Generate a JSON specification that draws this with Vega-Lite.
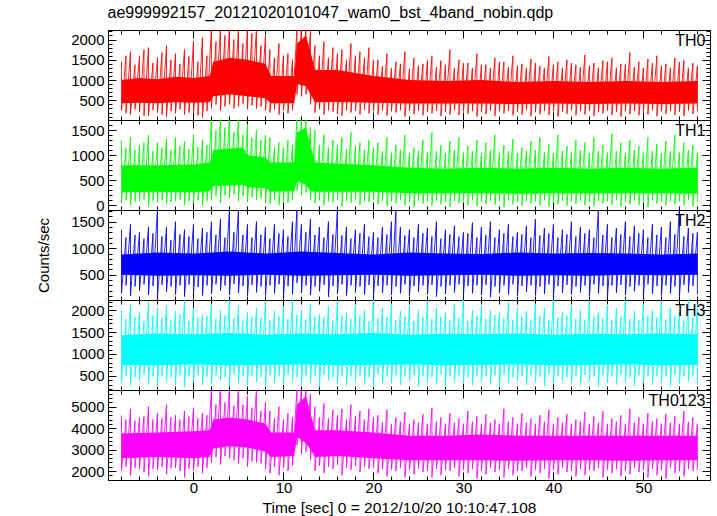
{
"$schema": "https://vega.github.io/schema/vega-lite/v6.json",
"padding": {"left": 35, "right": 6, "top": 4, "bottom": 0},
"spacing": 0,
"bounds": "flush",
"title": {"text": "ae999992157_20121020101047_wam0_bst_4band_nobin.qdp", "anchor": "start", "font": "Liberation Sans", "fontSize": 16, "fontWeight": "normal", "color": "black", "offset": 3, "dx": 72},
"config": {
  "view": {"stroke": "black", "strokeWidth": 1},
  "axis": {"domainColor": "black", "tickColor": "black", "labelColor": "black", "titleColor": "black", "labelFont": "Liberation Sans", "titleFont": "Liberation Sans", "labelFontSize": 15, "titleFontSize": 15, "titleFontWeight": "normal", "grid": false, "labelOverlap": false, "labelPadding": 12, "tickWidth": 1, "domainWidth": 1, "format": "d"},
  "text": {"font": "Liberation Sans", "fontSize": 16, "color": "black"},
  "line": {"strokeOpacity": 0.85}
},
"datasets": {
"s0": [{"t":-8,"lo":250,"hi":1450},{"t":-7.5,"lo":180,"hi":1600},{"t":-7,"lo":150,"hi":1700},{"t":-6.5,"lo":280,"hi":1380},{"t":-6,"lo":220,"hi":1600},{"t":-5.5,"lo":120,"hi":1750},{"t":-5,"lo":120,"hi":1800},{"t":-4.5,"lo":260,"hi":1420},{"t":-4,"lo":200,"hi":1550},{"t":-3.5,"lo":150,"hi":1680},{"t":-3,"lo":100,"hi":1850},{"t":-2.5,"lo":230,"hi":1500},{"t":-2,"lo":180,"hi":1650},{"t":-1.5,"lo":280,"hi":1400},{"t":-1,"lo":150,"hi":1750},{"t":-0.5,"lo":200,"hi":1580},{"t":0,"lo":200,"hi":1950},{"t":0.5,"lo":130,"hi":1450},{"t":1,"lo":80,"hi":2050},{"t":1.5,"lo":240,"hi":1600},
{"t":2,"lo":300,"hi":2300},{"t":2.5,"lo":400,"hi":1950},{"t":3,"lo":250,"hi":2300},{"t":3.5,"lo":350,"hi":2100},{"t":4,"lo":400,"hi":2300},{"t":4.5,"lo":300,"hi":2000},{"t":5,"lo":350,"hi":2300},{"t":5.5,"lo":420,"hi":1900},{"t":6,"lo":280,"hi":2300},{"t":6.5,"lo":380,"hi":2150},{"t":7,"lo":300,"hi":2300},{"t":7.5,"lo":350,"hi":1850},{"t":8,"lo":250,"hi":2100},
{"t":8.5,"lo":200,"hi":1750},{"t":9,"lo":280,"hi":1550},{"t":9.5,"lo":150,"hi":1900},{"t":10,"lo":250,"hi":1600},{"t":10.5,"lo":180,"hi":1650},{"t":11,"lo":260,"hi":1500},
{"t":11.5,"lo":650,"hi":2300},{"t":12,"lo":600,"hi":2300},{"t":12.5,"lo":650,"hi":2300},{"t":13,"lo":400,"hi":2200},
{"t":13.5,"lo":200,"hi":1850},{"t":14,"lo":280,"hi":1600},{"t":14.5,"lo":150,"hi":1950},{"t":15,"lo":250,"hi":1550},{"t":15.5,"lo":220,"hi":1800},{"t":16,"lo":160,"hi":1650},{"t":16.5,"lo":120,"hi":1750},{"t":17,"lo":260,"hi":1500},{"t":17.5,"lo":200,"hi":1900},{"t":18,"lo":240,"hi":1600},{"t":18.5,"lo":150,"hi":1700},{"t":19,"lo":270,"hi":1550},{"t":19.5,"lo":180,"hi":1800},{"t":20,"lo":230,"hi":1500},
{"t":20.5,"lo":150,"hi":1500},{"t":21,"lo":250,"hi":1350},{"t":21.5,"lo":120,"hi":1650},{"t":22,"lo":230,"hi":1300},{"t":22.5,"lo":200,"hi":1450},{"t":23,"lo":260,"hi":1400},{"t":23.5,"lo":100,"hi":1700},{"t":24,"lo":240,"hi":1280},{"t":24.5,"lo":160,"hi":1550},{"t":25,"lo":250,"hi":1350},
{"t":25.5,"lo":130,"hi":1400},{"t":26,"lo":220,"hi":1480},{"t":26.5,"lo":180,"hi":1600},{"t":27,"lo":240,"hi":1320},{"t":27.5,"lo":110,"hi":1480},{"t":28,"lo":220,"hi":1380},{"t":28.5,"lo":150,"hi":1750},{"t":29,"lo":260,"hi":1300},{"t":29.5,"lo":140,"hi":1500},{"t":30,"lo":230,"hi":1420},
{"t":30.5,"lo":170,"hi":1420},{"t":31,"lo":240,"hi":1300},{"t":31.5,"lo":100,"hi":1650},{"t":32,"lo":220,"hi":1380},{"t":32.5,"lo":160,"hi":1380},{"t":33,"lo":250,"hi":1300},{"t":33.5,"lo":120,"hi":1550},{"t":34,"lo":230,"hi":1450},{"t":34.5,"lo":180,"hi":1450},{"t":35,"lo":240,"hi":1320},
{"t":35.5,"lo":130,"hi":1600},{"t":36,"lo":220,"hi":1350},{"t":36.5,"lo":150,"hi":1400},{"t":37,"lo":260,"hi":1300},{"t":37.5,"lo":110,"hi":1520},{"t":38,"lo":210,"hi":1420},{"t":38.5,"lo":160,"hi":1350},{"t":39,"lo":240,"hi":1300},{"t":39.5,"lo":140,"hi":1580},{"t":40,"lo":230,"hi":1380},
{"t":40.5,"lo":100,"hi":1450},{"t":41,"lo":220,"hi":1300},{"t":41.5,"lo":170,"hi":1500},{"t":42,"lo":250,"hi":1420},{"t":42.5,"lo":130,"hi":1380},{"t":43,"lo":230,"hi":1320},{"t":43.5,"lo":150,"hi":1620},{"t":44,"lo":240,"hi":1350},{"t":44.5,"lo":120,"hi":1420},{"t":45,"lo":210,"hi":1300},
{"t":45.5,"lo":180,"hi":1480},{"t":46,"lo":250,"hi":1450},{"t":46.5,"lo":140,"hi":1550},{"t":47,"lo":220,"hi":1300},{"t":47.5,"lo":100,"hi":1400},{"t":48,"lo":230,"hi":1380},{"t":48.5,"lo":160,"hi":1680},{"t":49,"lo":240,"hi":1320},{"t":49.5,"lo":130,"hi":1450},{"t":50,"lo":220,"hi":1300},
{"t":50.5,"lo":150,"hi":1520},{"t":51,"lo":260,"hi":1420},{"t":51.5,"lo":110,"hi":1600},{"t":52,"lo":230,"hi":1350},{"t":52.5,"lo":170,"hi":1400},{"t":53,"lo":240,"hi":1300},{"t":53.5,"lo":140,"hi":1550},{"t":54,"lo":220,"hi":1450},{"t":54.5,"lo":120,"hi":1480},{"t":55,"lo":250,"hi":1300},
{"t":55.5,"lo":160,"hi":1420},{"t":56,"lo":230,"hi":1350}],
"c0": [{"t":-8,"clo":430,"chi":1000},{"t":-6,"clo":440,"chi":1050},{"t":-4,"clo":430,"chi":1020},{"t":-2,"clo":450,"chi":1080},{"t":0,"clo":440,"chi":1050},{"t":1.8,"clo":450,"chi":1100},{"t":2.2,"clo":600,"chi":1450},{"t":4,"clo":650,"chi":1550},{"t":6,"clo":600,"chi":1500},{"t":8,"clo":550,"chi":1400},{"t":8.6,"clo":430,"chi":1100},{"t":11.2,"clo":430,"chi":1100},{"t":11.5,"clo":900,"chi":1900},{"t":12.5,"clo":850,"chi":2100},{"t":13,"clo":650,"chi":1700},{"t":13.5,"clo":450,"chi":1250},{"t":16,"clo":460,"chi":1250},{"t":20,"clo":440,"chi":1100},{"t":24,"clo":420,"chi":1000},{"t":28,"clo":420,"chi":980},{"t":32,"clo":420,"chi":1000},{"t":36,"clo":410,"chi":950},{"t":40,"clo":420,"chi":980},{"t":44,"clo":410,"chi":950},{"t":48,"clo":420,"chi":980},{"t":52,"clo":410,"chi":950},{"t":56,"clo":420,"chi":980}],
"s1": [{"t":-8,"lo":50,"hi":1300},{"t":-7.5,"lo":100,"hi":1150},{"t":-7,"lo":0,"hi":1350},{"t":-6.5,"lo":80,"hi":1100},{"t":-6,"lo":80,"hi":1200},{"t":-5.5,"lo":120,"hi":1250},{"t":-5,"lo":-20,"hi":1400},{"t":-4.5,"lo":90,"hi":1080},{"t":-4,"lo":60,"hi":1250},{"t":-3.5,"lo":100,"hi":1150},{"t":-3,"lo":20,"hi":1320},{"t":-2.5,"lo":70,"hi":1100},{"t":-2,"lo":90,"hi":1350},{"t":-1.5,"lo":110,"hi":1180},{"t":-1,"lo":0,"hi":1280},{"t":-0.5,"lo":80,"hi":1120},{"t":0,"lo":40,"hi":1400},{"t":0.5,"lo":100,"hi":1160},{"t":1,"lo":-10,"hi":1300},{"t":1.5,"lo":90,"hi":1200},
{"t":2,"lo":100,"hi":1750},{"t":2.5,"lo":180,"hi":1500},{"t":3,"lo":50,"hi":1750},{"t":3.5,"lo":200,"hi":1550},{"t":4,"lo":150,"hi":1750},{"t":4.5,"lo":220,"hi":1450},{"t":5,"lo":80,"hi":1750},{"t":5.5,"lo":180,"hi":1400},{"t":6,"lo":60,"hi":1600},{"t":6.5,"lo":160,"hi":1350},{"t":7,"lo":100,"hi":1500},{"t":7.5,"lo":140,"hi":1300},{"t":8,"lo":40,"hi":1400},
{"t":8.5,"lo":30,"hi":1350},{"t":9,"lo":100,"hi":1150},{"t":9.5,"lo":0,"hi":1250},{"t":10,"lo":80,"hi":1150},{"t":10.5,"lo":50,"hi":1300},{"t":11,"lo":110,"hi":1200},
{"t":11.5,"lo":300,"hi":1750},{"t":12,"lo":200,"hi":1750},{"t":12.5,"lo":250,"hi":1750},{"t":13,"lo":100,"hi":1550},
{"t":13.5,"lo":40,"hi":1500},{"t":14,"lo":100,"hi":1200},{"t":14.5,"lo":0,"hi":1400},{"t":15,"lo":80,"hi":1150},{"t":15.5,"lo":60,"hi":1300},{"t":16,"lo":110,"hi":1200},{"t":16.5,"lo":-20,"hi":1350},{"t":17,"lo":90,"hi":1120},{"t":17.5,"lo":50,"hi":1450},{"t":18,"lo":100,"hi":1180},{"t":18.5,"lo":10,"hi":1250},{"t":19,"lo":80,"hi":1100},{"t":19.5,"lo":70,"hi":1300},{"t":20,"lo":100,"hi":1150},
{"t":20.5,"lo":20,"hi":1250},{"t":21,"lo":90,"hi":1080},{"t":21.5,"lo":-20,"hi":1350},{"t":22,"lo":80,"hi":1050},{"t":22.5,"lo":40,"hi":1200},{"t":23,"lo":100,"hi":1100},{"t":23.5,"lo":0,"hi":1400},{"t":24,"lo":70,"hi":1040},{"t":24.5,"lo":-40,"hi":1150},{"t":25,"lo":90,"hi":1080},
{"t":25.5,"lo":30,"hi":1300},{"t":26,"lo":80,"hi":1050},{"t":26.5,"lo":-10,"hi":1450},{"t":27,"lo":100,"hi":1080},{"t":27.5,"lo":20,"hi":1200},{"t":28,"lo":70,"hi":1040},{"t":28.5,"lo":-30,"hi":1280},{"t":29,"lo":90,"hi":1100},{"t":29.5,"lo":40,"hi":1350},{"t":30,"lo":80,"hi":1050},
{"t":30.5,"lo":0,"hi":1180},{"t":31,"lo":100,"hi":1080},{"t":31.5,"lo":-20,"hi":1300},{"t":32,"lo":70,"hi":1040},{"t":32.5,"lo":30,"hi":1250},{"t":33,"lo":90,"hi":1100},{"t":33.5,"lo":10,"hi":1400},{"t":34,"lo":80,"hi":1050},{"t":34.5,"lo":-40,"hi":1200},{"t":35,"lo":100,"hi":1080},
{"t":35.5,"lo":20,"hi":1320},{"t":36,"lo":70,"hi":1040},{"t":36.5,"lo":-10,"hi":1150},{"t":37,"lo":90,"hi":1080},{"t":37.5,"lo":40,"hi":1280},{"t":38,"lo":80,"hi":1100},{"t":38.5,"lo":0,"hi":1350},{"t":39,"lo":100,"hi":1050},{"t":39.5,"lo":-30,"hi":1220},{"t":40,"lo":70,"hi":1040},
{"t":40.5,"lo":20,"hi":1400},{"t":41,"lo":90,"hi":1080},{"t":41.5,"lo":-10,"hi":1180},{"t":42,"lo":80,"hi":1050},{"t":42.5,"lo":30,"hi":1300},{"t":43,"lo":100,"hi":1100},{"t":43.5,"lo":0,"hi":1250},{"t":44,"lo":70,"hi":1040},{"t":44.5,"lo":-20,"hi":1350},{"t":45,"lo":90,"hi":1080},
{"t":45.5,"lo":40,"hi":1200},{"t":46,"lo":80,"hi":1050},{"t":46.5,"lo":10,"hi":1430},{"t":47,"lo":100,"hi":1080},{"t":47.5,"lo":-30,"hi":1250},{"t":48,"lo":70,"hi":1040},{"t":48.5,"lo":20,"hi":1300},{"t":49,"lo":90,"hi":1100},{"t":49.5,"lo":0,"hi":1180},{"t":50,"lo":80,"hi":1050},
{"t":50.5,"lo":-40,"hi":1350},{"t":51,"lo":100,"hi":1080},{"t":51.5,"lo":30,"hi":1220},{"t":52,"lo":70,"hi":1040},{"t":52.5,"lo":-10,"hi":1280},{"t":53,"lo":90,"hi":1080},{"t":53.5,"lo":20,"hi":1400},{"t":54,"lo":80,"hi":1050},{"t":54.5,"lo":0,"hi":1250},{"t":55,"lo":100,"hi":1100},
{"t":55.5,"lo":-20,"hi":1200},{"t":56,"lo":70,"hi":1050}],
"c1": [{"t":-8,"clo":260,"chi":800},{"t":-4,"clo":270,"chi":800},{"t":0,"clo":260,"chi":810},{"t":1.8,"clo":280,"chi":850},{"t":2.2,"clo":380,"chi":1100},{"t":5.5,"clo":410,"chi":1150},{"t":6,"clo":360,"chi":1000},{"t":8,"clo":340,"chi":950},{"t":8.6,"clo":270,"chi":850},{"t":11.2,"clo":280,"chi":850},{"t":11.5,"clo":480,"chi":1450},{"t":12.5,"clo":410,"chi":1550},{"t":13,"clo":280,"chi":1200},{"t":13.5,"clo":270,"chi":850},{"t":20,"clo":270,"chi":800},{"t":24,"clo":240,"chi":750},{"t":28,"clo":240,"chi":730},{"t":32,"clo":240,"chi":750},{"t":36,"clo":230,"chi":730},{"t":40,"clo":240,"chi":750},{"t":44,"clo":240,"chi":730},{"t":48,"clo":240,"chi":750},{"t":52,"clo":240,"chi":730},{"t":56,"clo":230,"chi":750}],
"s2": [{"t":-8,"lo":150,"hi":1350},{"t":-7.5,"lo":300,"hi":1200},{"t":-7,"lo":100,"hi":1450},{"t":-6.5,"lo":280,"hi":1250},{"t":-6,"lo":200,"hi":1300},{"t":-5.5,"lo":320,"hi":1180},{"t":-5,"lo":120,"hi":1400},{"t":-4.5,"lo":290,"hi":1280},{"t":-4,"lo":80,"hi":1750},{"t":-3.5,"lo":310,"hi":1220},
{"t":-3,"lo":180,"hi":1400},{"t":-2.5,"lo":280,"hi":1150},{"t":-2,"lo":130,"hi":1500},{"t":-1.5,"lo":300,"hi":1260},{"t":-1,"lo":90,"hi":1350},{"t":-0.5,"lo":320,"hi":1220},{"t":0,"lo":160,"hi":1450},{"t":0.5,"lo":270,"hi":1180},{"t":1,"lo":110,"hi":1380},{"t":1.5,"lo":300,"hi":1300},
{"t":2,"lo":140,"hi":1500},{"t":2.5,"lo":320,"hi":1250},{"t":3,"lo":200,"hi":1550},{"t":3.5,"lo":300,"hi":1200},{"t":4,"lo":120,"hi":1750},{"t":4.5,"lo":330,"hi":1300},{"t":5,"lo":160,"hi":1750},{"t":5.5,"lo":290,"hi":1250},{"t":6,"lo":100,"hi":1450},{"t":6.5,"lo":310,"hi":1200},
{"t":7,"lo":170,"hi":1500},{"t":7.5,"lo":280,"hi":1250},{"t":8,"lo":110,"hi":1400},{"t":8.5,"lo":300,"hi":1180},{"t":9,"lo":150,"hi":1450},{"t":9.5,"lo":320,"hi":1280},{"t":10,"lo":90,"hi":1350},{"t":10.5,"lo":290,"hi":1220},{"t":11,"lo":130,"hi":1500},{"t":11.5,"lo":350,"hi":1750},
{"t":12,"lo":160,"hi":1450},{"t":12.5,"lo":300,"hi":1300},{"t":13,"lo":120,"hi":1550},{"t":13.5,"lo":280,"hi":1250},{"t":14,"lo":190,"hi":1400},{"t":14.5,"lo":310,"hi":1200},{"t":15,"lo":80,"hi":1500},{"t":15.5,"lo":290,"hi":1260},{"t":16,"lo":140,"hi":1750},{"t":16.5,"lo":320,"hi":1240},
{"t":17,"lo":110,"hi":1400},{"t":17.5,"lo":300,"hi":1180},{"t":18,"lo":170,"hi":1350},{"t":18.5,"lo":280,"hi":1280},{"t":19,"lo":130,"hi":1450},{"t":19.5,"lo":310,"hi":1220},{"t":20,"lo":90,"hi":1300},{"t":20.5,"lo":290,"hi":1200},{"t":21,"lo":160,"hi":1400},{"t":21.5,"lo":300,"hi":1260},
{"t":22,"lo":120,"hi":1500},{"t":22.5,"lo":280,"hi":1750},{"t":23,"lo":150,"hi":1400},{"t":23.5,"lo":320,"hi":1240},{"t":24,"lo":100,"hi":1350},{"t":24.5,"lo":290,"hi":1200},{"t":25,"lo":180,"hi":1450},{"t":25.5,"lo":300,"hi":1280},{"t":26,"lo":130,"hi":1380},{"t":26.5,"lo":310,"hi":1220},
{"t":27,"lo":90,"hi":1500},{"t":27.5,"lo":280,"hi":1180},{"t":28,"lo":140,"hi":1350},{"t":28.5,"lo":300,"hi":1260},{"t":29,"lo":170,"hi":1420},{"t":29.5,"lo":320,"hi":1220},{"t":30,"lo":110,"hi":1300},{"t":30.5,"lo":290,"hi":1280},{"t":31,"lo":150,"hi":1480},{"t":31.5,"lo":300,"hi":1200},
{"t":32,"lo":120,"hi":1400},{"t":32.5,"lo":310,"hi":1250},{"t":33,"lo":80,"hi":1500},{"t":33.5,"lo":280,"hi":1200},{"t":34,"lo":160,"hi":1350},{"t":34.5,"lo":300,"hi":1280},{"t":35,"lo":130,"hi":1450},{"t":35.5,"lo":320,"hi":1220},{"t":36,"lo":100,"hi":1300},{"t":36.5,"lo":290,"hi":1260},
{"t":37,"lo":180,"hi":1420},{"t":37.5,"lo":300,"hi":1200},{"t":38,"lo":110,"hi":1550},{"t":38.5,"lo":280,"hi":1240},{"t":39,"lo":140,"hi":1380},{"t":39.5,"lo":320,"hi":1280},{"t":40,"lo":90,"hi":1450},{"t":40.5,"lo":290,"hi":1200},{"t":41,"lo":160,"hi":1350},{"t":41.5,"lo":310,"hi":1260},
{"t":42,"lo":130,"hi":1500},{"t":42.5,"lo":280,"hi":1220},{"t":43,"lo":170,"hi":1400},{"t":43.5,"lo":300,"hi":1280},{"t":44,"lo":100,"hi":1350},{"t":44.5,"lo":320,"hi":1200},{"t":45,"lo":150,"hi":1750},{"t":45.5,"lo":290,"hi":1250},{"t":46,"lo":80,"hi":1450},{"t":46.5,"lo":300,"hi":1200},
{"t":47,"lo":160,"hi":1380},{"t":47.5,"lo":310,"hi":1260},{"t":48,"lo":120,"hi":1500},{"t":48.5,"lo":280,"hi":1220},{"t":49,"lo":190,"hi":1420},{"t":49.5,"lo":300,"hi":1280},{"t":50,"lo":100,"hi":1350},{"t":50.5,"lo":320,"hi":1200},{"t":51,"lo":140,"hi":1450},{"t":51.5,"lo":290,"hi":1250},
{"t":52,"lo":110,"hi":1400},{"t":52.5,"lo":300,"hi":1200},{"t":53,"lo":150,"hi":1500},{"t":53.5,"lo":280,"hi":1260},{"t":54,"lo":90,"hi":1750},{"t":54.5,"lo":310,"hi":1220},{"t":55,"lo":170,"hi":1380},{"t":55.5,"lo":290,"hi":1280},{"t":56,"lo":130,"hi":1300}],
"c2": [{"t":-8,"clo":500,"chi":880},{"t":-4,"clo":480,"chi":920},{"t":0,"clo":490,"chi":900},{"t":4,"clo":480,"chi":940},{"t":8,"clo":500,"chi":900},{"t":12,"clo":480,"chi":940},{"t":16,"clo":490,"chi":910},{"t":20,"clo":500,"chi":880},{"t":24,"clo":480,"chi":920},{"t":28,"clo":490,"chi":900},{"t":32,"clo":500,"chi":890},{"t":36,"clo":480,"chi":920},{"t":40,"clo":490,"chi":900},{"t":44,"clo":480,"chi":910},{"t":48,"clo":500,"chi":900},{"t":52,"clo":490,"chi":880},{"t":56,"clo":500,"chi":900}],
"s3": [{"t":-8,"lo":350,"hi":2000},{"t":-7.5,"lo":500,"hi":1800},{"t":-7,"lo":280,"hi":2150},{"t":-6.5,"lo":470,"hi":1850},{"t":-6,"lo":400,"hi":1950},{"t":-5.5,"lo":530,"hi":1750},{"t":-5,"lo":300,"hi":2200},{"t":-4.5,"lo":490,"hi":1880},{"t":-4,"lo":260,"hi":2050},{"t":-3.5,"lo":510,"hi":1820},
{"t":-3,"lo":380,"hi":2100},{"t":-2.5,"lo":470,"hi":1780},{"t":-2,"lo":300,"hi":1980},{"t":-1.5,"lo":510,"hi":1900},{"t":-1,"lo":240,"hi":2235},{"t":-0.5,"lo":490,"hi":1760},{"t":0,"lo":350,"hi":2050},{"t":0.5,"lo":530,"hi":1840},{"t":1,"lo":290,"hi":1900},{"t":1.5,"lo":480,"hi":1870},
{"t":2,"lo":320,"hi":2150},{"t":2.5,"lo":510,"hi":1800},{"t":3,"lo":400,"hi":2000},{"t":3.5,"lo":470,"hi":1880},{"t":4,"lo":270,"hi":2235},{"t":4.5,"lo":530,"hi":1820},{"t":5,"lo":340,"hi":2100},{"t":5.5,"lo":490,"hi":1760},{"t":6,"lo":300,"hi":1950},{"t":6.5,"lo":500,"hi":1850},
{"t":7,"lo":360,"hi":2050},{"t":7.5,"lo":480,"hi":1830},{"t":8,"lo":250,"hi":2200},{"t":8.5,"lo":520,"hi":1770},{"t":9,"lo":330,"hi":1980},{"t":9.5,"lo":490,"hi":1860},{"t":10,"lo":290,"hi":2100},{"t":10.5,"lo":530,"hi":1800},{"t":11,"lo":380,"hi":2235},{"t":11.5,"lo":470,"hi":1890},
{"t":12,"lo":300,"hi":2000},{"t":12.5,"lo":510,"hi":1790},{"t":13,"lo":350,"hi":2150},{"t":13.5,"lo":490,"hi":1850},{"t":14,"lo":260,"hi":1900},{"t":14.5,"lo":530,"hi":1830},{"t":15,"lo":400,"hi":2080},{"t":15.5,"lo":470,"hi":1770},{"t":16,"lo":310,"hi":2200},{"t":16.5,"lo":500,"hi":1860},
{"t":17,"lo":280,"hi":1950},{"t":17.5,"lo":490,"hi":1800},{"t":18,"lo":370,"hi":2100},{"t":18.5,"lo":510,"hi":1880},{"t":19,"lo":300,"hi":2000},{"t":19.5,"lo":470,"hi":1750},{"t":20,"lo":240,"hi":2235},{"t":20.5,"lo":530,"hi":1820},{"t":21,"lo":340,"hi":2050},{"t":21.5,"lo":500,"hi":1850},
{"t":22,"lo":330,"hi":2150},{"t":22.5,"lo":510,"hi":1780},{"t":23,"lo":290,"hi":1980},{"t":23.5,"lo":480,"hi":1860},{"t":24,"lo":380,"hi":2100},{"t":24.5,"lo":520,"hi":1760},{"t":25,"lo":260,"hi":2000},{"t":25.5,"lo":490,"hi":1840},{"t":26,"lo":350,"hi":2200},{"t":26.5,"lo":470,"hi":1800},
{"t":27,"lo":300,"hi":2050},{"t":27.5,"lo":530,"hi":1850},{"t":28,"lo":250,"hi":1950},{"t":28.5,"lo":490,"hi":1770},{"t":29,"lo":360,"hi":2150},{"t":29.5,"lo":510,"hi":1830},{"t":30,"lo":320,"hi":2235},{"t":30.5,"lo":470,"hi":1760},{"t":31,"lo":280,"hi":2000},{"t":31.5,"lo":500,"hi":1870},
{"t":32,"lo":370,"hi":2100},{"t":32.5,"lo":490,"hi":1800},{"t":33,"lo":300,"hi":2000},{"t":33.5,"lo":510,"hi":1890},{"t":34,"lo":240,"hi":1950},{"t":34.5,"lo":530,"hi":1820},{"t":35,"lo":330,"hi":2200},{"t":35.5,"lo":470,"hi":1780},{"t":36,"lo":390,"hi":2050},{"t":36.5,"lo":500,"hi":1850},
{"t":37,"lo":290,"hi":1980},{"t":37.5,"lo":510,"hi":1790},{"t":38,"lo":350,"hi":2150},{"t":38.5,"lo":480,"hi":1860},{"t":39,"lo":270,"hi":2050},{"t":39.5,"lo":530,"hi":1770},{"t":40,"lo":310,"hi":2235},{"t":40.5,"lo":490,"hi":1830},{"t":41,"lo":360,"hi":1950},{"t":41.5,"lo":470,"hi":1880},
{"t":42,"lo":320,"hi":2100},{"t":42.5,"lo":500,"hi":1800},{"t":43,"lo":280,"hi":2000},{"t":43.5,"lo":520,"hi":1780},{"t":44,"lo":380,"hi":2200},{"t":44.5,"lo":480,"hi":1860},{"t":45,"lo":250,"hi":1950},{"t":45.5,"lo":510,"hi":1820},{"t":46,"lo":340,"hi":2100},{"t":46.5,"lo":490,"hi":1770},
{"t":47,"lo":300,"hi":2050},{"t":47.5,"lo":530,"hi":1850},{"t":48,"lo":360,"hi":2235},{"t":48.5,"lo":470,"hi":1800},{"t":49,"lo":270,"hi":1980},{"t":49.5,"lo":510,"hi":1780},{"t":50,"lo":330,"hi":2150},{"t":50.5,"lo":490,"hi":1870},{"t":51,"lo":290,"hi":2000},{"t":51.5,"lo":500,"hi":1830},
{"t":52,"lo":350,"hi":2200},{"t":52.5,"lo":480,"hi":1790},{"t":53,"lo":260,"hi":2050},{"t":53.5,"lo":520,"hi":1860},{"t":54,"lo":320,"hi":1950},{"t":54.5,"lo":490,"hi":1760},{"t":55,"lo":380,"hi":2235},{"t":55.5,"lo":510,"hi":1840},{"t":56,"lo":300,"hi":2100}],
"c3": [{"t":-8,"clo":750,"chi":1430},{"t":-4,"clo":740,"chi":1470},{"t":0,"clo":760,"chi":1450},{"t":4,"clo":740,"chi":1480},{"t":8,"clo":750,"chi":1440},{"t":12,"clo":760,"chi":1470},{"t":16,"clo":740,"chi":1450},{"t":20,"clo":750,"chi":1480},{"t":24,"clo":760,"chi":1440},{"t":28,"clo":740,"chi":1460},{"t":32,"clo":750,"chi":1450},{"t":36,"clo":760,"chi":1470},{"t":40,"clo":740,"chi":1440},{"t":44,"clo":750,"chi":1460},{"t":48,"clo":760,"chi":1450},{"t":52,"clo":740,"chi":1470},{"t":56,"clo":750,"chi":1450}],
"s4": [{"t":-8,"lo":2000,"hi":4600},{"t":-7.5,"lo":2200,"hi":4400},{"t":-7,"lo":1800,"hi":4900},{"t":-6.5,"lo":2150,"hi":4350},{"t":-6,"lo":2100,"hi":4500},{"t":-5.5,"lo":1950,"hi":4550},{"t":-5,"lo":1750,"hi":5000},{"t":-4.5,"lo":2100,"hi":4400},{"t":-4,"lo":2050,"hi":4700},{"t":-3.5,"lo":2200,"hi":4450},
{"t":-3,"lo":1850,"hi":5100},{"t":-2.5,"lo":2150,"hi":4500},{"t":-2,"lo":2150,"hi":4600},{"t":-1.5,"lo":2000,"hi":4400},{"t":-1,"lo":1700,"hi":4800},{"t":-0.5,"lo":2100,"hi":4550},{"t":0,"lo":2000,"hi":4950},{"t":0.5,"lo":2200,"hi":4450},{"t":1,"lo":1900,"hi":4700},{"t":1.5,"lo":2150,"hi":4600},
{"t":2,"lo":2400,"hi":5900},{"t":2.5,"lo":2650,"hi":5100},{"t":3,"lo":2300,"hi":5900},{"t":3.5,"lo":2700,"hi":5200},{"t":4,"lo":2600,"hi":5900},{"t":4.5,"lo":2500,"hi":5050},{"t":5,"lo":2350,"hi":5900},{"t":5.5,"lo":2600,"hi":5100},{"t":6,"lo":2200,"hi":5500},{"t":6.5,"lo":2450,"hi":4950},{"t":7,"lo":2400,"hi":5900},{"t":7.5,"lo":2350,"hi":4800},{"t":8,"lo":2100,"hi":5200},
{"t":8.5,"lo":1900,"hi":4800},{"t":9,"lo":2200,"hi":4450},{"t":9.5,"lo":1800,"hi":5000},{"t":10,"lo":2150,"hi":4400},{"t":10.5,"lo":2000,"hi":4700},{"t":11,"lo":2250,"hi":4500},
{"t":11.5,"lo":3200,"hi":5900},{"t":12,"lo":2800,"hi":5900},{"t":12.5,"lo":2900,"hi":5900},{"t":13,"lo":2500,"hi":5600},
{"t":13.5,"lo":2000,"hi":5000},{"t":14,"lo":2250,"hi":4500},{"t":14.5,"lo":1900,"hi":5150},{"t":15,"lo":2200,"hi":4450},{"t":15.5,"lo":2100,"hi":4850},{"t":16,"lo":2300,"hi":4600},{"t":16.5,"lo":1800,"hi":4900},{"t":17,"lo":2150,"hi":4400},{"t":17.5,"lo":2050,"hi":5100},{"t":18,"lo":2250,"hi":4550},{"t":18.5,"lo":1950,"hi":4800},{"t":19,"lo":2200,"hi":4400},{"t":19.5,"lo":2100,"hi":4900},{"t":20,"lo":2150,"hi":4500},
{"t":20.5,"lo":1900,"hi":4600},{"t":21,"lo":2100,"hi":4250},{"t":21.5,"lo":1750,"hi":4850},{"t":22,"lo":2050,"hi":4200},{"t":22.5,"lo":2000,"hi":4500},{"t":23,"lo":2150,"hi":4300},{"t":23.5,"lo":1700,"hi":4750},{"t":24,"lo":2050,"hi":4200},{"t":24.5,"lo":1850,"hi":4400},{"t":25,"lo":2100,"hi":4250},
{"t":25.5,"lo":1950,"hi":4650},{"t":26,"lo":2000,"hi":4200},{"t":26.5,"lo":1700,"hi":4950},{"t":27,"lo":2100,"hi":4300},{"t":27.5,"lo":1800,"hi":4500},{"t":28,"lo":2050,"hi":4200},{"t":28.5,"lo":2000,"hi":4700},{"t":29,"lo":2150,"hi":4250},{"t":29.5,"lo":1750,"hi":4450},{"t":30,"lo":2050,"hi":4200},
{"t":30.5,"lo":1900,"hi":4800},{"t":31,"lo":2100,"hi":4300},{"t":31.5,"lo":1650,"hi":4550},{"t":32,"lo":2000,"hi":4200},{"t":32.5,"lo":1850,"hi":4650},{"t":33,"lo":2150,"hi":4250},{"t":33.5,"lo":1950,"hi":4400},{"t":34,"lo":2050,"hi":4200},{"t":34.5,"lo":1700,"hi":4900},{"t":35,"lo":2100,"hi":4300},
{"t":35.5,"lo":1800,"hi":4500},{"t":36,"lo":2000,"hi":4200},{"t":36.5,"lo":2000,"hi":4700},{"t":37,"lo":2150,"hi":4250},{"t":37.5,"lo":1750,"hi":4450},{"t":38,"lo":2050,"hi":4200},{"t":38.5,"lo":1900,"hi":4600},{"t":39,"lo":2100,"hi":4300},{"t":39.5,"lo":1650,"hi":4850},{"t":40,"lo":2050,"hi":4200},
{"t":40.5,"lo":1850,"hi":4500},{"t":41,"lo":2150,"hi":4250},{"t":41.5,"lo":1950,"hi":4650},{"t":42,"lo":2000,"hi":4200},{"t":42.5,"lo":1750,"hi":4400},{"t":43,"lo":2100,"hi":4300},{"t":43.5,"lo":1800,"hi":4750},{"t":44,"lo":2050,"hi":4200},{"t":44.5,"lo":2000,"hi":4550},{"t":45,"lo":2150,"hi":4250},
{"t":45.5,"lo":1700,"hi":4800},{"t":46,"lo":2050,"hi":4200},{"t":46.5,"lo":1900,"hi":4450},{"t":47,"lo":2100,"hi":4300},{"t":47.5,"lo":1750,"hi":4600},{"t":48,"lo":2000,"hi":4200},{"t":48.5,"lo":1850,"hi":4900},{"t":49,"lo":2150,"hi":4250},{"t":49.5,"lo":1950,"hi":4500},{"t":50,"lo":2050,"hi":4200},
{"t":50.5,"lo":1700,"hi":4700},{"t":51,"lo":2100,"hi":4300},{"t":51.5,"lo":1800,"hi":4450},{"t":52,"lo":2050,"hi":4200},{"t":52.5,"lo":1650,"hi":4650},{"t":53,"lo":2150,"hi":4250},{"t":53.5,"lo":1900,"hi":4550},{"t":54,"lo":2000,"hi":4200},{"t":54.5,"lo":1750,"hi":4800},{"t":55,"lo":2100,"hi":4300},
{"t":55.5,"lo":2000,"hi":4500},{"t":56,"lo":2050,"hi":4200}],
"c4": [{"t":-8,"clo":2600,"chi":3750},{"t":-4,"clo":2650,"chi":3800},{"t":0,"clo":2600,"chi":3850},{"t":1.8,"clo":2650,"chi":3900},{"t":2.2,"clo":3050,"chi":4400},{"t":4,"clo":3150,"chi":4500},{"t":6,"clo":3100,"chi":4400},{"t":8,"clo":2900,"chi":4200},{"t":8.6,"clo":2650,"chi":3800},{"t":11.2,"clo":2700,"chi":3800},{"t":11.5,"clo":3600,"chi":5100},{"t":12.5,"clo":3300,"chi":5500},{"t":13,"clo":3000,"chi":4700},{"t":13.5,"clo":2650,"chi":3900},{"t":16,"clo":2700,"chi":3900},{"t":20,"clo":2600,"chi":3800},{"t":24,"clo":2500,"chi":3650},{"t":28,"clo":2500,"chi":3650},{"t":32,"clo":2500,"chi":3700},{"t":36,"clo":2480,"chi":3650},{"t":40,"clo":2500,"chi":3650},{"t":44,"clo":2500,"chi":3650},{"t":48,"clo":2480,"chi":3650},{"t":52,"clo":2500,"chi":3650},{"t":56,"clo":2500,"chi":3650}]
},
"vconcat": [
{
 "width": 602, "height": 90,
 "layer": [
  {"data": {"name": "c0"},
   "mark": {"type": "area", "clip": true, "color": "#ff0000"},
   "encoding": {
    "x": {"field": "t", "type": "quantitative", "scale": {"domain": [-9.5, 57.4], "nice": false, "zero": false},
      "axis": {"orient": "bottom", "values": [-8,-6,-4,-2,0,2,4,6,8,10,12,14,16,18,20,22,24,26,28,30,32,34,36,38,40,42,44,46,48,50,52,54,56], "labels": false, "title": null, "minExtent": 0, "maxExtent": 0, "tickSize": {"condition": {"test": "datum.value % 10 === 0", "value": -8}, "value": -4}}},
    "y": {"field": "chi", "type": "quantitative", "scale": {"domain": [15, 2235], "nice": false, "zero": false},
      "axis": {"orient": "left", "values": [100,200,300,400,500,600,700,800,900,1000,1100,1200,1300,1400,1500,1600,1700,1800,1900,2000,2100,2200], "labelExpr": "datum.value % 500 === 0 ? datum.label : ''", "title": null, "minExtent": 40, "maxExtent": 40, "tickSize": {"condition": {"test": "datum.value % 500 === 0", "value": -8}, "value": -4}}},
    "y2": {"field": "clo"}
   }},
  {"data": {"name": "s0"},
   "transform": [{"fold": ["hi", "lo"], "as": ["k", "v"]}],
   "mark": {"type": "line", "clip": true, "color": "#ff0000", "strokeWidth": 1},
   "encoding": {"x": {"field": "t", "type": "quantitative", "axis": null}, "y": {"field": "v", "type": "quantitative", "axis": null}, "order": [{"field": "t", "type": "quantitative"}, {"field": "k", "type": "ordinal"}]}},
  {"data": {"values": [{"label": "TH0"}]},
   "mark": {"type": "text", "align": "right", "baseline": "top", "dy": 3},
   "encoding": {
    "x": {"datum": 56.9, "type": "quantitative",
      "axis": {"orient": "top", "values": [-8,-6,-4,-2,0,2,4,6,8,10,12,14,16,18,20,22,24,26,28,30,32,34,36,38,40,42,44,46,48,50,52,54,56], "labels": false, "title": null, "minExtent": 0, "maxExtent": 0, "tickSize": {"condition": {"test": "datum.value % 10 === 0", "value": -8}, "value": -4}}},
    "y": {"datum": 2235, "type": "quantitative",
      "axis": {"orient": "right", "values": [100,200,300,400,500,600,700,800,900,1000,1100,1200,1300,1400,1500,1600,1700,1800,1900,2000,2100,2200], "labels": false, "title": null, "minExtent": 0, "maxExtent": 0, "tickSize": {"condition": {"test": "datum.value % 500 === 0", "value": -8}, "value": -4}}},
    "text": {"field": "label"}
   }}
 ],
 "resolve": {"axis": {"x": "independent", "y": "independent"}}
},
{
 "width": 602, "height": 90,
 "layer": [
  {"data": {"name": "c1"},
   "mark": {"type": "area", "clip": true, "color": "#00ff00"},
   "encoding": {
    "x": {"field": "t", "type": "quantitative", "scale": {"domain": [-9.5, 57.4], "nice": false, "zero": false},
      "axis": {"orient": "bottom", "values": [-8,-6,-4,-2,0,2,4,6,8,10,12,14,16,18,20,22,24,26,28,30,32,34,36,38,40,42,44,46,48,50,52,54,56], "labels": false, "title": null, "minExtent": 0, "maxExtent": 0, "tickSize": {"condition": {"test": "datum.value % 10 === 0", "value": -8}, "value": -4}}},
    "y": {"field": "chi", "type": "quantitative", "scale": {"domain": [-95, 1700], "nice": false, "zero": false},
      "axis": {"orient": "left", "values": [0,100,200,300,400,500,600,700,800,900,1000,1100,1200,1300,1400,1500,1600], "labelExpr": "datum.value % 500 === 0 ? datum.label : ''", "title": null, "minExtent": 40, "maxExtent": 40, "tickSize": {"condition": {"test": "datum.value % 500 === 0", "value": -8}, "value": -4}}},
    "y2": {"field": "clo"}
   }},
  {"data": {"name": "s1"},
   "transform": [{"fold": ["hi", "lo"], "as": ["k", "v"]}],
   "mark": {"type": "line", "clip": true, "color": "#00ff00", "strokeWidth": 1},
   "encoding": {"x": {"field": "t", "type": "quantitative", "axis": null}, "y": {"field": "v", "type": "quantitative", "axis": null}, "order": [{"field": "t", "type": "quantitative"}, {"field": "k", "type": "ordinal"}]}},
  {"data": {"values": [{"label": "TH1"}]},
   "mark": {"type": "text", "align": "right", "baseline": "top", "dy": 3},
   "encoding": {
    "x": {"datum": 56.9, "type": "quantitative",
      "axis": {"orient": "top", "values": [-8,-6,-4,-2,0,2,4,6,8,10,12,14,16,18,20,22,24,26,28,30,32,34,36,38,40,42,44,46,48,50,52,54,56], "labels": false, "title": null, "minExtent": 0, "maxExtent": 0, "tickSize": {"condition": {"test": "datum.value % 10 === 0", "value": -8}, "value": -4}}},
    "y": {"datum": 1700, "type": "quantitative",
      "axis": {"orient": "right", "values": [0,100,200,300,400,500,600,700,800,900,1000,1100,1200,1300,1400,1500,1600], "labels": false, "title": null, "minExtent": 0, "maxExtent": 0, "tickSize": {"condition": {"test": "datum.value % 500 === 0", "value": -8}, "value": -4}}},
    "text": {"field": "label"}
   }}
 ],
 "resolve": {"axis": {"x": "independent", "y": "independent"}}
},
{
 "width": 602, "height": 90,
 "layer": [
  {"data": {"name": "c2"},
   "mark": {"type": "area", "clip": true, "color": "#0000ff"},
   "encoding": {
    "x": {"field": "t", "type": "quantitative", "scale": {"domain": [-9.5, 57.4], "nice": false, "zero": false},
      "axis": {"orient": "bottom", "values": [-8,-6,-4,-2,0,2,4,6,8,10,12,14,16,18,20,22,24,26,28,30,32,34,36,38,40,42,44,46,48,50,52,54,56], "labels": false, "title": null, "minExtent": 0, "maxExtent": 0, "tickSize": {"condition": {"test": "datum.value % 10 === 0", "value": -8}, "value": -4}}},
    "y": {"field": "chi", "type": "quantitative", "scale": {"domain": [25, 1720], "nice": false, "zero": false},
      "axis": {"orient": "left", "values": [100,200,300,400,500,600,700,800,900,1000,1100,1200,1300,1400,1500,1600,1700], "labelExpr": "datum.value % 500 === 0 ? datum.label : ''", "title": "Counts/sec", "titlePadding": 17, "minExtent": 40, "maxExtent": 40, "tickSize": {"condition": {"test": "datum.value % 500 === 0", "value": -8}, "value": -4}}},
    "y2": {"field": "clo"}
   }},
  {"data": {"name": "s2"},
   "transform": [{"fold": ["hi", "lo"], "as": ["k", "v"]}],
   "mark": {"type": "line", "clip": true, "color": "#0000ff", "strokeWidth": 1},
   "encoding": {"x": {"field": "t", "type": "quantitative", "axis": null}, "y": {"field": "v", "type": "quantitative", "axis": null}, "order": [{"field": "t", "type": "quantitative"}, {"field": "k", "type": "ordinal"}]}},
  {"data": {"values": [{"label": "TH2"}]},
   "mark": {"type": "text", "align": "right", "baseline": "top", "dy": 3},
   "encoding": {
    "x": {"datum": 56.9, "type": "quantitative",
      "axis": {"orient": "top", "values": [-8,-6,-4,-2,0,2,4,6,8,10,12,14,16,18,20,22,24,26,28,30,32,34,36,38,40,42,44,46,48,50,52,54,56], "labels": false, "title": null, "minExtent": 0, "maxExtent": 0, "tickSize": {"condition": {"test": "datum.value % 10 === 0", "value": -8}, "value": -4}}},
    "y": {"datum": 1720, "type": "quantitative",
      "axis": {"orient": "right", "values": [100,200,300,400,500,600,700,800,900,1000,1100,1200,1300,1400,1500,1600,1700], "labels": false, "title": null, "minExtent": 0, "maxExtent": 0, "tickSize": {"condition": {"test": "datum.value % 500 === 0", "value": -8}, "value": -4}}},
    "text": {"field": "label"}
   }}
 ],
 "resolve": {"axis": {"x": "independent", "y": "independent"}}
},
{
 "width": 602, "height": 90,
 "layer": [
  {"data": {"name": "c3"},
   "mark": {"type": "area", "clip": true, "color": "#00ffff"},
   "encoding": {
    "x": {"field": "t", "type": "quantitative", "scale": {"domain": [-9.5, 57.4], "nice": false, "zero": false},
      "axis": {"orient": "bottom", "values": [-8,-6,-4,-2,0,2,4,6,8,10,12,14,16,18,20,22,24,26,28,30,32,34,36,38,40,42,44,46,48,50,52,54,56], "labels": false, "title": null, "minExtent": 0, "maxExtent": 0, "tickSize": {"condition": {"test": "datum.value % 10 === 0", "value": -8}, "value": -4}}},
    "y": {"field": "chi", "type": "quantitative", "scale": {"domain": [175, 2235], "nice": false, "zero": false},
      "axis": {"orient": "left", "values": [200,300,400,500,600,700,800,900,1000,1100,1200,1300,1400,1500,1600,1700,1800,1900,2000,2100,2200], "labelExpr": "datum.value % 500 === 0 ? datum.label : ''", "title": null, "minExtent": 40, "maxExtent": 40, "tickSize": {"condition": {"test": "datum.value % 500 === 0", "value": -8}, "value": -4}}},
    "y2": {"field": "clo"}
   }},
  {"data": {"name": "s3"},
   "transform": [{"fold": ["hi", "lo"], "as": ["k", "v"]}],
   "mark": {"type": "line", "clip": true, "color": "#00ffff", "strokeWidth": 1},
   "encoding": {"x": {"field": "t", "type": "quantitative", "axis": null}, "y": {"field": "v", "type": "quantitative", "axis": null}, "order": [{"field": "t", "type": "quantitative"}, {"field": "k", "type": "ordinal"}]}},
  {"data": {"values": [{"label": "TH3"}]},
   "mark": {"type": "text", "align": "right", "baseline": "top", "dy": 3},
   "encoding": {
    "x": {"datum": 56.9, "type": "quantitative",
      "axis": {"orient": "top", "values": [-8,-6,-4,-2,0,2,4,6,8,10,12,14,16,18,20,22,24,26,28,30,32,34,36,38,40,42,44,46,48,50,52,54,56], "labels": false, "title": null, "minExtent": 0, "maxExtent": 0, "tickSize": {"condition": {"test": "datum.value % 10 === 0", "value": -8}, "value": -4}}},
    "y": {"datum": 2235, "type": "quantitative",
      "axis": {"orient": "right", "values": [200,300,400,500,600,700,800,900,1000,1100,1200,1300,1400,1500,1600,1700,1800,1900,2000,2100,2200], "labels": false, "title": null, "minExtent": 0, "maxExtent": 0, "tickSize": {"condition": {"test": "datum.value % 500 === 0", "value": -8}, "value": -4}}},
    "text": {"field": "label"}
   }}
 ],
 "resolve": {"axis": {"x": "independent", "y": "independent"}}
},
{
 "width": 602, "height": 90,
 "layer": [
  {"data": {"name": "c4"},
   "mark": {"type": "area", "clip": true, "color": "#ff00ff"},
   "encoding": {
    "x": {"field": "t", "type": "quantitative", "scale": {"domain": [-9.5, 57.4], "nice": false, "zero": false},
      "axis": {"orient": "bottom", "values": [-8,-6,-4,-2,0,2,4,6,8,10,12,14,16,18,20,22,24,26,28,30,32,34,36,38,40,42,44,46,48,50,52,54,56], "labelExpr": "datum.value % 10 === 0 ? datum.label : ''", "labelPadding": 8, "title": "Time [sec] 0 = 2012/10/20 10:10:47.108", "titleFontSize": 15.5, "titlePadding": 1, "titleX": 291, "tickSize": {"condition": {"test": "datum.value % 10 === 0", "value": -8}, "value": -4}}},
    "y": {"field": "chi", "type": "quantitative", "scale": {"domain": [1580, 5780], "nice": false, "zero": false},
      "axis": {"orient": "left", "values": [1600,1800,2000,2200,2400,2600,2800,3000,3200,3400,3600,3800,4000,4200,4400,4600,4800,5000,5200,5400,5600], "labelExpr": "datum.value % 1000 === 0 ? datum.label : ''", "title": null, "minExtent": 40, "maxExtent": 40, "tickSize": {"condition": {"test": "datum.value % 1000 === 0", "value": -8}, "value": -4}}},
    "y2": {"field": "clo"}
   }},
  {"data": {"name": "s4"},
   "transform": [{"fold": ["hi", "lo"], "as": ["k", "v"]}],
   "mark": {"type": "line", "clip": true, "color": "#ff00ff", "strokeWidth": 1},
   "encoding": {"x": {"field": "t", "type": "quantitative", "axis": null}, "y": {"field": "v", "type": "quantitative", "axis": null}, "order": [{"field": "t", "type": "quantitative"}, {"field": "k", "type": "ordinal"}]}},
  {"data": {"values": [{"label": "TH0123"}]},
   "mark": {"type": "text", "align": "right", "baseline": "top", "dy": 3},
   "encoding": {
    "x": {"datum": 56.9, "type": "quantitative",
      "axis": {"orient": "top", "values": [-8,-6,-4,-2,0,2,4,6,8,10,12,14,16,18,20,22,24,26,28,30,32,34,36,38,40,42,44,46,48,50,52,54,56], "labels": false, "title": null, "minExtent": 0, "maxExtent": 0, "tickSize": {"condition": {"test": "datum.value % 10 === 0", "value": -8}, "value": -4}}},
    "y": {"datum": 5780, "type": "quantitative",
      "axis": {"orient": "right", "values": [1600,1800,2000,2200,2400,2600,2800,3000,3200,3400,3600,3800,4000,4200,4400,4600,4800,5000,5200,5400,5600], "labels": false, "title": null, "minExtent": 0, "maxExtent": 0, "tickSize": {"condition": {"test": "datum.value % 1000 === 0", "value": -8}, "value": -4}}},
    "text": {"field": "label"}
   }}
 ],
 "resolve": {"axis": {"x": "independent", "y": "independent"}}
}
]
}
